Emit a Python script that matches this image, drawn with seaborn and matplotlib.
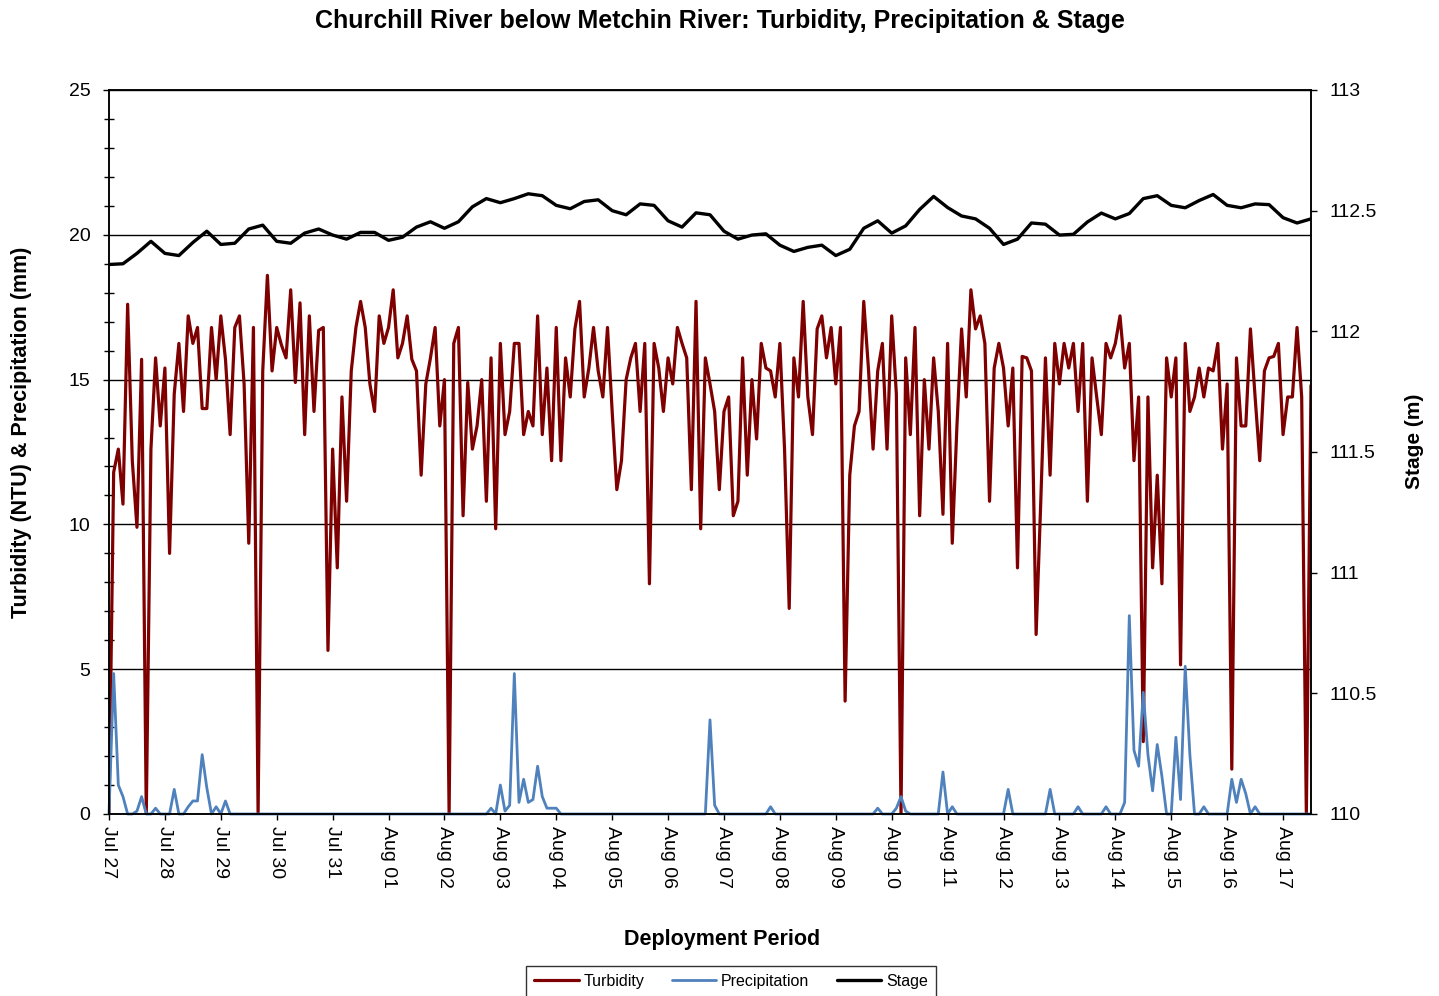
import matplotlib
matplotlib.use("Agg")
import matplotlib.pyplot as plt
import matplotlib.dates as mdates
from matplotlib.ticker import MultipleLocator, FuncFormatter
import numpy as np
import pandas as pd
import seaborn as sns

# ---------------- data ----------------
start_time = "2013-07-27 00:00"
turb_step = "2h"      # turbidity & precipitation sampling step
stage_step = "6h"     # stage sampling step

# Turbidity (NTU), every 2 h from Jul 27 00:00
turbidity = [
    0, 11.8, 12.6, 10.7, 17.6, 12.2, 9.9, 15.7, 0, 12.6, 15.75, 13.4, 15.4, 9.0, 14.5,
    16.25, 13.9, 17.2, 16.25, 16.8, 14.0, 14.0, 16.8, 15.0, 17.2, 15.7, 13.1, 16.8, 17.2,
    14.85, 9.35, 16.8, 0, 15.3, 18.6, 15.3, 16.8, 16.2, 15.75, 18.1, 14.9, 17.65, 13.1,
    17.2, 13.9, 16.7, 16.8, 5.65, 12.6, 8.5, 14.4, 10.8, 15.3, 16.8, 17.7, 16.8, 14.85,
    13.9, 17.2, 16.25, 16.8, 18.1, 15.75, 16.25, 17.2, 15.7, 15.3, 11.7, 14.85, 15.75,
    16.8, 13.4, 15.0, 0, 16.25, 16.8, 10.3, 14.9, 12.6, 13.4, 15.0, 10.8, 15.75, 9.85,
    16.25, 13.1,
    13.9, 16.25, 16.25, 13.1, 13.9, 13.4, 17.2, 13.1, 15.4, 12.2, 16.8, 12.2, 15.75, 14.4,
    16.75, 17.7, 14.4, 15.4, 16.8, 15.3, 14.4, 16.8, 13.9, 11.2, 12.2, 15.0, 15.75, 16.25,
    13.9, 16.25, 7.95, 16.25, 15.4, 13.9, 15.75, 14.85, 16.8, 16.25, 15.75, 11.2, 17.7,
    9.85, 15.75,
    14.85, 13.9, 11.2, 13.9, 14.4, 10.3, 10.8, 15.75, 11.7, 15.0, 12.95, 16.25, 15.4, 15.3,
    14.4, 16.25, 12.6, 7.1, 15.75, 14.4, 17.7, 14.4, 13.1, 16.75, 17.2, 15.75, 16.8, 14.85,
    16.8, 3.9, 11.7, 13.4, 13.9, 17.7, 15.4, 12.6, 15.3, 16.25, 12.6, 17.2, 14.5, 0, 15.75,
    13.1, 16.8, 10.3, 15.0, 12.6, 15.75, 13.9, 10.35, 16.25, 9.35, 13.4, 16.75, 14.4, 18.1,
    16.75, 17.2, 16.25, 10.8, 15.4, 16.25, 15.4, 13.4, 15.4, 8.5, 15.8, 15.75, 15.3, 6.2,
    10.8, 15.75, 11.7, 16.25, 14.85, 16.25, 15.4, 16.25, 13.9, 16.25, 10.8, 15.75, 14.4,
    13.1, 16.25,
    15.75, 16.25, 17.2, 15.4, 16.25, 12.2, 14.4, 2.5, 14.4, 8.5, 11.7, 7.95, 15.75, 14.4,
    15.75, 5.15, 16.25, 13.9, 14.4, 15.4, 14.4, 15.4, 15.3, 16.25, 12.6, 14.85, 1.55, 15.75,
    13.4, 13.4, 16.75, 14.4, 12.2, 15.3, 15.75, 15.8, 16.25, 13.1, 14.4, 14.4, 16.8, 14.4,
    0, 14.8,
]

# Precipitation (mm), every 2 h from Jul 27 00:00 (one row per day)
precipitation = [
    0, 4.85, 1.0, 0.6, 0, 0, 0.1, 0.6, 0, 0, 0.2, 0,          # Jul 27
    0, 0, 0.85, 0, 0, 0.25, 0.45, 0.45, 2.05, 0.9, 0, 0.25,   # Jul 28
    0, 0.45, 0, 0, 0, 0, 0, 0, 0, 0, 0, 0,                    # Jul 29
    0, 0, 0, 0, 0, 0, 0, 0, 0, 0, 0, 0,                       # Jul 30
    0, 0, 0, 0, 0, 0, 0, 0, 0, 0, 0, 0,                       # Jul 31
    0, 0, 0, 0, 0, 0, 0, 0, 0, 0, 0, 0,                       # Aug 01
    0, 0, 0, 0, 0, 0, 0, 0, 0, 0, 0.2, 0,                     # Aug 02
    1.0, 0.1, 0.3, 4.85, 0.4, 1.2, 0.4, 0.5, 1.65, 0.6, 0.2, 0.2,  # Aug 03
    0.2, 0, 0, 0, 0, 0, 0, 0, 0, 0, 0, 0,                     # Aug 04
    0, 0, 0, 0, 0, 0, 0, 0, 0, 0, 0, 0,                       # Aug 05
    0, 0, 0, 0, 0, 0, 0, 0, 0, 3.25, 0.3, 0,                  # Aug 06
    0, 0, 0, 0, 0, 0, 0, 0, 0, 0, 0.25, 0,                    # Aug 07
    0, 0, 0, 0, 0, 0, 0, 0, 0, 0, 0, 0,                       # Aug 08
    0, 0, 0, 0, 0, 0, 0, 0, 0, 0.2, 0, 0,                     # Aug 09
    0, 0.2, 0.6, 0.1, 0, 0, 0, 0, 0, 0, 0, 1.45,              # Aug 10
    0, 0.25, 0, 0, 0, 0, 0, 0, 0, 0, 0, 0,                    # Aug 11
    0, 0.85, 0, 0, 0, 0, 0, 0, 0, 0, 0.85, 0,                 # Aug 12
    0, 0, 0, 0, 0.25, 0, 0, 0, 0, 0, 0.25, 0,                 # Aug 13
    0, 0, 0.4, 6.85, 2.2, 1.65, 4.2, 2.05, 0.8, 2.4, 1.3, 0,  # Aug 14
    0, 2.65, 0.5, 5.1, 2.05, 0, 0, 0.25, 0, 0, 0, 0,          # Aug 15
    0, 1.2, 0.4, 1.2, 0.7, 0, 0.25, 0, 0, 0, 0, 0,            # Aug 16
    0, 0, 0, 0, 0, 0, 0,                                      # Aug 17
]

# Stage (m), every 6 h from Jul 27 00:00 (one row per day)
stage = [
    112.277, 112.28, 112.323, 112.373,
    112.323, 112.314, 112.368, 112.415,
    112.36, 112.365, 112.424, 112.44,
    112.373, 112.365, 112.407, 112.424,
    112.399, 112.382, 112.41, 112.41,
    112.377, 112.39, 112.432, 112.454,
    112.427, 112.454, 112.516, 112.55,
    112.533, 112.55, 112.57, 112.562,
    112.522, 112.508, 112.538, 112.545,
    112.5, 112.483, 112.528, 112.522,
    112.458, 112.432, 112.491, 112.483,
    112.415, 112.382, 112.399, 112.404,
    112.357, 112.331, 112.348, 112.357,
    112.314, 112.34, 112.427, 112.458,
    112.407, 112.437, 112.505, 112.559,
    112.513, 112.478, 112.466, 112.427,
    112.36, 112.382, 112.449, 112.444,
    112.399, 112.402, 112.453, 112.49,
    112.466, 112.488, 112.55, 112.562,
    112.522, 112.512, 112.542, 112.567,
    112.522, 112.512, 112.528, 112.525,
    112.471, 112.449, 112.466,
]

series_labels = ["Turbidity", "Precipitation", "Stage"]
title_text = "Churchill River below Metchin River: Turbidity, Precipitation & Stage"
left_label = "Turbidity (NTU) & Precipitation (mm)"
right_label = "Stage (m)"
x_label = "Deployment Period"

# ---------------- build frames ----------------
t0 = pd.Timestamp(start_time)
turb_df = pd.DataFrame({
    "time": pd.date_range(t0, periods=len(turbidity), freq=turb_step),
    "value": turbidity,
})
prec_df = pd.DataFrame({
    "time": pd.date_range(t0, periods=len(precipitation), freq=turb_step),
    "value": precipitation,
})
stage_df = pd.DataFrame({
    "time": pd.date_range(t0, periods=len(stage), freq=stage_step),
    "value": stage,
})

# ---------------- style ----------------
sns.set_style("white")
plt.rcParams["font.family"] = ["Liberation Sans", "DejaVu Sans"]
plt.rcParams["axes.edgecolor"] = "black"
plt.rcParams["text.color"] = "black"
plt.rcParams["axes.labelcolor"] = "black"
plt.rcParams["xtick.color"] = "black"
plt.rcParams["ytick.color"] = "black"

RED = "#7F0000"
BLUE = "#4F81BD"

fig = plt.figure(figsize=(14.39, 9.96), dpi=100)
ax = fig.add_axes([109 / 1439, 1 - 814 / 996, (1311 - 109) / 1439, (814 - 90) / 996])

sns.lineplot(data=turb_df, x="time", y="value", ax=ax, color=RED, linewidth=2.3,
             label=series_labels[0])
sns.lineplot(data=prec_df, x="time", y="value", ax=ax, color=BLUE, linewidth=2.0,
             label=series_labels[1], clip_on=False)

ax2 = ax.twinx()
sns.lineplot(data=stage_df, x="time", y="value", ax=ax2, color="black", linewidth=2.4,
             label=series_labels[2])

# limits
ax.set_xlim(t0, t0 + pd.Timedelta(days=21.5))
ax.set_ylim(0, 25)
ax2.set_ylim(110, 113)

# grid: horizontal black lines on left major ticks
ax.yaxis.grid(True, color="black", linewidth=1.0)
ax.xaxis.grid(False)
ax2.grid(False)
ax.set_axisbelow(True)

for a in (ax, ax2):
    for s in a.spines.values():
        s.set_color("black")
        s.set_linewidth(1.1)

# left axis ticks
ax.yaxis.set_major_locator(MultipleLocator(5))
ax.yaxis.set_minor_locator(MultipleLocator(1))
ax.yaxis.set_major_formatter(FuncFormatter(lambda v, p: f"{v:g}"))
ax.tick_params(axis="y", which="major", direction="out", length=4.5, width=1,
               labelsize=14, pad=9, left=True, colors="black")
ax.tick_params(axis="y", which="minor", direction="inout", length=6.5, width=1, left=True)

# right axis ticks
ax2.yaxis.set_major_locator(MultipleLocator(0.5))
ax2.yaxis.set_major_formatter(FuncFormatter(lambda v, p: f"{v:g}"))
ax2.tick_params(axis="y", which="major", direction="out", length=4.5, width=1,
                labelsize=14, pad=9, right=True, colors="black")

# x axis ticks
ax.xaxis.set_major_locator(mdates.DayLocator())
ax.xaxis.set_major_formatter(mdates.DateFormatter("%b %d"))
ax.tick_params(axis="x", which="major", direction="out", length=4.5, width=1,
               labelsize=14, pad=4, bottom=True, colors="black")
for lab in ax.get_xticklabels():
    lab.set_rotation(270)
    lab.set_ha("center")
    lab.set_va("top")

# labels
ax.set_xlabel(x_label, fontsize=15.5, fontweight="bold")
ax.xaxis.set_label_coords((722 - 109) / 1202, -(940 - 814) / 724)
ax.xaxis.label.set_va("center")
ax.set_ylabel(left_label, fontsize=15.5, fontweight="bold")
ax.yaxis.set_label_coords(-(109 - 22) / 1202, (814 - 432) / 724)
ax.yaxis.label.set_va("center")
ax2.set_ylabel(right_label, fontsize=15, fontweight="bold")
ax2.yaxis.set_label_coords(1.0 + (1414 - 1311) / 1202, (814 - 441) / 724)
ax2.yaxis.label.set_va("center")

fig.text(0.5, 1 - 21 / 996, title_text, ha="center", va="center",
         fontsize=18, fontweight="bold")

# legend
h1, l1 = ax.get_legend_handles_labels()
h2, l2 = ax2.get_legend_handles_labels()
for a in (ax, ax2):
    if a.get_legend() is not None:
        a.get_legend().remove()
leg = fig.legend(h1 + h2, l1 + l2, loc="upper center",
                 bbox_to_anchor=(731 / 1439, 1 - 966 / 996), ncol=3,
                 frameon=True, fancybox=False, shadow=False, edgecolor="black",
                 fontsize=11.5, handlelength=2.8, handletextpad=0.3,
                 columnspacing=1.7, borderpad=0.5, borderaxespad=0)
leg.get_frame().set_linewidth(1.0)

fig.savefig("out.png", dpi=100)
